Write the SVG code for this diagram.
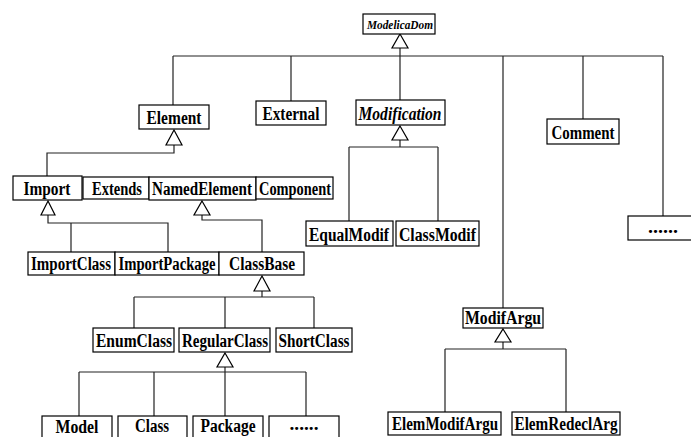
<svg xmlns="http://www.w3.org/2000/svg" width="691" height="437" viewBox="0 0 691 437">
<style>
.b{fill:#fff;stroke:#000;stroke-width:1.2}
.t{font-family:"Liberation Serif","Times New Roman",serif;font-weight:bold;font-size:18px;fill:#000;text-anchor:middle}
.i{font-style:italic}
.s{font-size:13.5px}
.c{fill:none;stroke:#222;stroke-width:1.2}
.tri{fill:#fff;stroke:#000;stroke-width:1.2}
</style>
<rect width="691" height="437" fill="#fff"/>
<g id="connectors">
<path class="c" d="M400,48V100M173,56H663M173,56V105M291,56V101M503,56V308M583,56V119M663,56V216"/>
<path class="c" d="M174,145V153H47V176"/>
<path class="c" d="M48,215V223H168V252M71,223V252"/>
<path class="c" d="M202,215V220H262V252"/>
<path class="c" d="M400,140V147M349,147H438M349,147V221M438,147V221"/>
<path class="c" d="M262,291V297M134,297H314M134,297V328M225,297V328M314,297V328"/>
<path class="c" d="M225,367V372M79,372H306M79,372V416M154,372V416M225,372V416M306,372V416"/>
<path class="c" d="M503,342V349M445,349H566M445,349V412M566,349V412"/>
<polygon class="tri" points="400,34 408,48 392,48"/>
<polygon class="tri" points="174,130 182,145 166,145"/>
<polygon class="tri" points="48,201 55,215 41,215"/>
<polygon class="tri" points="202,201 210,215 194,215"/>
<polygon class="tri" points="400,126 408,140 392,140"/>
<polygon class="tri" points="262,276 270,291 254,291"/>
<polygon class="tri" points="225,353 233,367 217,367"/>
<polygon class="tri" points="503,329 511,342 495,342"/>
</g>
<g id="ModelicaDom"><rect class="b" x="363" y="14" width="72" height="20"/><text class="t i s" x="400" y="29" textLength="66" lengthAdjust="spacingAndGlyphs">ModelicaDom</text></g>
<g id="Element"><rect class="b" x="139" y="105" width="70" height="24"/><text class="t" x="174" y="124" textLength="55" lengthAdjust="spacingAndGlyphs">Element</text></g>
<g id="External"><rect class="b" x="256" y="101" width="70" height="24"/><text class="t" x="291" y="120" textLength="57" lengthAdjust="spacingAndGlyphs">External</text></g>
<g id="Modification"><rect class="b" x="356" y="100" width="89" height="25"/><text class="t i" x="400" y="120" textLength="83" lengthAdjust="spacingAndGlyphs">Modification</text></g>
<g id="Comment"><rect class="b" x="547" y="119" width="72" height="25"/><text class="t" x="583" y="139" textLength="63" lengthAdjust="spacingAndGlyphs">Comment</text></g>
<g id="More1"><rect class="b" x="628" y="216" width="70" height="24"/><text class="t" x="663" y="233" textLength="30" lengthAdjust="spacingAndGlyphs">......</text></g>
<g id="Import"><rect class="b" x="13" y="176" width="69" height="24"/><text class="t" x="47" y="195" textLength="47" lengthAdjust="spacingAndGlyphs">Import</text></g>
<g id="Extends"><rect class="b" x="83" y="177" width="66" height="22"/><text class="t" x="117" y="195" textLength="50" lengthAdjust="spacingAndGlyphs">Extends</text></g>
<g id="NamedElement"><rect class="b" x="149" y="177" width="107" height="23"/><text class="t" x="202" y="195" textLength="100" lengthAdjust="spacingAndGlyphs">NamedElement</text></g>
<g id="Component"><rect class="b" x="256" y="177" width="77" height="22"/><text class="t" x="295" y="195" textLength="72" lengthAdjust="spacingAndGlyphs">Component</text></g>
<g id="EqualModif"><rect class="b" x="306" y="221" width="87" height="25"/><text class="t" x="349" y="241" textLength="80" lengthAdjust="spacingAndGlyphs">EqualModif</text></g>
<g id="ClassModif"><rect class="b" x="396" y="221" width="83" height="25"/><text class="t" x="437.5" y="241" textLength="77" lengthAdjust="spacingAndGlyphs">ClassModif</text></g>
<g id="ImportClass"><rect class="b" x="28" y="252" width="87" height="23"/><text class="t" x="71" y="270" textLength="80" lengthAdjust="spacingAndGlyphs">ImportClass</text></g>
<g id="ImportPackage"><rect class="b" x="115" y="252" width="104" height="23"/><text class="t" x="167" y="270" textLength="97" lengthAdjust="spacingAndGlyphs">ImportPackage</text></g>
<g id="ClassBase"><rect class="b" x="219" y="252" width="85" height="23"/><text class="t" x="262" y="270" textLength="66" lengthAdjust="spacingAndGlyphs">ClassBase</text></g>
<g id="EnumClass"><rect class="b" x="93" y="328" width="81" height="24"/><text class="t" x="134" y="347" textLength="76" lengthAdjust="spacingAndGlyphs">EnumClass</text></g>
<g id="RegularClass"><rect class="b" x="179" y="328" width="91" height="24"/><text class="t" x="225" y="347" textLength="86" lengthAdjust="spacingAndGlyphs">RegularClass</text></g>
<g id="ShortClass"><rect class="b" x="276" y="328" width="76" height="24"/><text class="t" x="314" y="347" textLength="71" lengthAdjust="spacingAndGlyphs">ShortClass</text></g>
<g id="ModifArgu"><rect class="b" x="463" y="308" width="80" height="20"/><text class="t" x="503" y="324" textLength="76" lengthAdjust="spacingAndGlyphs">ModifArgu</text></g>
<g id="Model"><rect class="b" x="42" y="416" width="70" height="30"/><text class="t" x="77" y="433" textLength="43" lengthAdjust="spacingAndGlyphs">Model</text></g>
<g id="Class"><rect class="b" x="118" y="416" width="69" height="30"/><text class="t" x="152" y="432" textLength="34" lengthAdjust="spacingAndGlyphs">Class</text></g>
<g id="Package"><rect class="b" x="193" y="416" width="70" height="30"/><text class="t" x="228" y="432" textLength="55" lengthAdjust="spacingAndGlyphs">Package</text></g>
<g id="More2"><rect class="b" x="269" y="416" width="70" height="30"/><text class="t" x="304" y="430" textLength="29" lengthAdjust="spacingAndGlyphs">......</text></g>
<g id="ElemModifArgu"><rect class="b" x="388" y="412" width="113" height="23"/><text class="t" x="445" y="430" textLength="106" lengthAdjust="spacingAndGlyphs">ElemModifArgu</text></g>
<g id="ElemRedeclArg"><rect class="b" x="512" y="412" width="108" height="23"/><text class="t" x="566" y="430" textLength="103" lengthAdjust="spacingAndGlyphs">ElemRedeclArg</text></g>
</svg>
